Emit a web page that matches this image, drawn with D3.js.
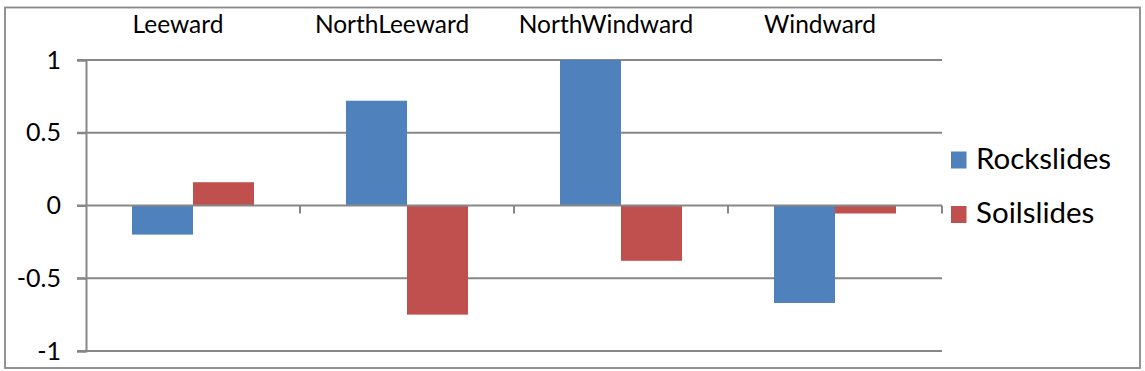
<!DOCTYPE html>
<html>
<head>
<meta charset="utf-8">
<script src="https://cdn.jsdelivr.net/npm/d3@7"></script>
<style>
  html, body { margin: 0; padding: 0; background: #fff; }
  svg { display: block; }
  text { font-family: Lato, "Open Sans", sans-serif; fill: #000; }
</style>
</head>
<body>
<svg id="chart" width="1145" height="371"></svg>
<script>
// ---- data ----
const categories = ["Leeward", "NorthLeeward", "NorthWindward", "Windward"];
const seriesNames = ["Rockslides", "Soilslides"];
const rockslides = [-0.20, 0.72, 1.00, -0.67];
const soilslides = [0.16, -0.75, -0.38, -0.055];
const yTicks = [-1, -0.5, 0, 0.5, 1];
const yTickLabels = ["-1", "-0.5", "0", "0.5", "1"];

const seriesValues = [rockslides, soilslides];
const colors = ["#4F81BD", "#C0504D"];

const svg = d3.select("#chart");
const W = 1145, H = 371;

// outer border
svg.append("rect")
  .attr("x", 5).attr("y", 7.5)
  .attr("width", 1135).attr("height", 360.5)
  .attr("fill", "#fff")
  .attr("stroke", "#888").attr("stroke-width", 1.8);

const plot = { left: 86, right: 942, top: 60, bottom: 351 };

const x = d3.scaleBand().domain(categories).range([plot.left, plot.right]).paddingInner(0).paddingOuter(0);
const xs = d3.scaleBand().domain(seriesNames).range([0, x.bandwidth()]).paddingInner(0).paddingOuter(0.754);
const y = d3.scaleLinear().domain([-1, 1]).range([plot.bottom, plot.top]);

const grid = "#878787";

// gridlines (behind bars), excluding zero line
svg.append("g").selectAll("line")
  .data(yTicks.filter(d => d !== 0))
  .join("line")
  .attr("x1", plot.left - 9).attr("x2", plot.right)
  .attr("y1", d => y(d)).attr("y2", d => y(d))
  .attr("stroke", grid).attr("stroke-width", 2);

// y axis using d3 axis
const yAxis = d3.axisLeft(y).tickValues(yTicks)
  .tickFormat((d, i) => yTickLabels[i])
  .tickSize(9).tickPadding(16);
const gy = svg.append("g").attr("transform", `translate(${plot.left},0)`).call(yAxis);
gy.select(".domain").attr("stroke", grid).attr("stroke-width", 2);
gy.selectAll(".tick line").attr("stroke", grid).attr("stroke-width", 2);
gy.selectAll(".tick text")
  .attr("font-size", 25)
  .attr("font-family", "Lato, sans-serif")
  .attr("fill", "#000");

// bars
const rows = [];
categories.forEach((c, i) => {
  seriesNames.forEach((s, j) => rows.push({ c, s, v: seriesValues[j][i], j }));
});
svg.append("g").selectAll("rect")
  .data(rows)
  .join("rect")
  .attr("x", d => x(d.c) + xs(d.s))
  .attr("width", xs.bandwidth())
  .attr("y", d => y(Math.max(0, d.v)))
  .attr("height", d => Math.abs(y(d.v) - y(0)))
  .attr("fill", d => colors[d.j]);

// zero line (category axis) on top, with ticks below
const xAxis = d3.axisBottom(x).tickValues([]).tickSizeOuter(0);
const gx = svg.append("g").attr("transform", `translate(0,${y(0)})`);
gx.append("line")
  .attr("x1", plot.left - 9).attr("x2", plot.right)
  .attr("y1", 0).attr("y2", 0)
  .attr("stroke", grid).attr("stroke-width", 2);
const boundaries = categories.map(c => x(c) + x.bandwidth()).slice();
gx.selectAll("line.tk")
  .data(boundaries)
  .join("line").attr("class", "tk")
  .attr("x1", d => d).attr("x2", d => d)
  .attr("y1", 0).attr("y2", 8)
  .attr("stroke", grid).attr("stroke-width", 2);

// category labels across the top
svg.append("g").selectAll("text")
  .data(categories)
  .join("text")
  .attr("x", d => x(d) + x.bandwidth() / 2 - 15)
  .attr("y", 32.5)
  .attr("text-anchor", "middle")
  .attr("font-size", 24.5)
  .text(d => d);

// legend
const lg = svg.append("g").attr("transform", "translate(951,0)");
const lgRows = lg.selectAll("g")
  .data(seriesNames)
  .join("g")
  .attr("transform", (d, i) => `translate(0,${168.5 + i * 54.5})`);
lgRows.append("rect")
  .attr("x", 0).attr("y", -17)
  .attr("width", 15.5).attr("height", 17)
  .attr("fill", (d, i) => colors[i]);
lgRows.append("text")
  .attr("x", 25).attr("y", 0)
  .attr("font-size", 29.5)
  .text(d => d);
</script>
</body>
</html>
